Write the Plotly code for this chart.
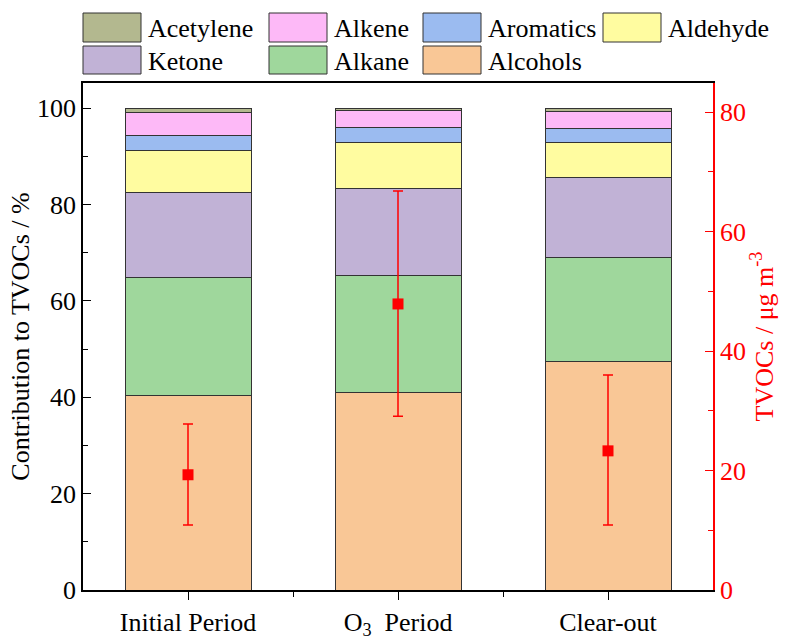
import plotly.graph_objects as go

periods = ["Initial Period", "O<sub>3</sub>  Period", "Clear-out"]
x_pos = [0, 1, 2]

# stacking order bottom -> top
species = ["Alcohols", "Alkane", "Ketone", "Aldehyde", "Aromatics", "Alkene", "Acetylene"]
alcohols = [40.3, 41.0, 47.5]
alkane = [24.6, 24.3, 21.4]
ketone = [17.5, 18.1, 16.6]
aldehyde = [8.7, 9.4, 7.3]
aromatics = [3.3, 3.2, 3.0]
alkene = [4.7, 3.4, 3.5]
acetylene = [0.9, 0.6, 0.7]
values = [alcohols, alkane, ketone, aldehyde, aromatics, alkene, acetylene]
colors = ["#F9C796", "#9FD79C", "#C1B2D6", "#FFFCA0", "#9BBBF0", "#FDB9F7", "#B3B88F"]

tvoc_mean = [19.3, 47.9, 23.3]
tvoc_plus = [8.5, 18.9, 12.7]
tvoc_minus = [8.4, 18.8, 12.4]

FONT = "Liberation Serif, Times New Roman, serif"
FS = 26
W, H = 787, 642
ML, MR, MT, MB = 83, 74, 83, 52
PW, PH = W - ML - MR, H - MT - MB


def px(xp):
    return (xp - ML) / PW


def py(yp):
    return (H - MB - yp) / PH


fig = go.Figure()
for name, vals, col in zip(species, values, colors):
    fig.add_trace(go.Bar(
        x=x_pos, y=vals, name=name, width=0.6, showlegend=False,
        marker=dict(color=col, line=dict(color="#333333", width=1)),
    ))

fig.add_trace(go.Scatter(
    x=x_pos, y=tvoc_mean, yaxis="y2", mode="markers", showlegend=False,
    marker=dict(symbol="square", size=11, color="#FF0000"),
    error_y=dict(type="data", array=tvoc_plus, arrayminus=tvoc_minus,
                 color="#FF0000", thickness=1.5, width=5, visible=True),
))

# custom legend (layout only): order Acetylene, Alkene, Aromatics, Aldehyde / Ketone, Alkane, Alcohols
legend_order = list(reversed(range(len(species))))
col_x = [83, 269, 423, 603]
row_y = [(13, 42), (46, 74)]
shapes = []
annotations = []
for k, idx in enumerate(legend_order):
    r, c = divmod(k, 4)
    x0 = col_x[c]
    y0, y1 = row_y[r]
    shapes.append(dict(type="rect", xref="paper", yref="paper",
                       x0=px(x0), x1=px(x0 + 58), y0=py(y1), y1=py(y0),
                       fillcolor=colors[idx], line=dict(color="#333333", width=1)))
    annotations.append(dict(xref="paper", yref="paper", x=px(x0 + 63), y=py((y0 + y1) / 2 + 1),
                            xanchor="left", yanchor="middle", showarrow=False,
                            text=species[idx], font=dict(family=FONT, size=FS, color="black")))

fig.update_layout(
    barmode="stack",
    width=W, height=H,
    margin=dict(l=ML, r=MR, t=MT, b=MB, autoexpand=False),
    paper_bgcolor="white", plot_bgcolor="white",
    font=dict(family=FONT, size=FS, color="black"),
    showlegend=False,
    shapes=shapes,
    annotations=annotations,
    xaxis=dict(
        range=[-0.5, 2.5], tickmode="array", tickvals=x_pos, ticktext=periods,
        showline=True, linecolor="black", linewidth=1.5, mirror=True,
        ticks="outside", ticklen=8, tickwidth=1.2, tickcolor="black",
        minor=dict(tickmode="array", tickvals=[0.5, 1.5], ticks="outside", ticklen=5, tickcolor="black"),
        showgrid=False, zeroline=False,
        tickfont=dict(family=FONT, size=FS),
    ),
    yaxis=dict(
        range=[0, 105.2], tickvals=[0, 20, 40, 60, 80, 100],
        showline=True, linecolor="black", linewidth=1.5,
        ticks="inside", ticklen=8, tickwidth=1.2, tickcolor="black",
        minor=dict(dtick=10, ticks="inside", ticklen=5, tickcolor="black"),
        showgrid=False, zeroline=False,
        title=dict(text="Contribution to TVOCs / %", font=dict(family=FONT, size=FS), standoff=0),
        tickfont=dict(family=FONT, size=FS),
    ),
    yaxis2=dict(
        overlaying="y", side="right", range=[0, 84.9],
        tickvals=[0, 20, 40, 60, 80],
        showline=True, linecolor="#FF0000", linewidth=1.5,
        ticks="inside", ticklen=8, tickwidth=1.2, tickcolor="#FF0000",
        minor=dict(dtick=10, ticks="inside", ticklen=5, tickcolor="#FF0000"),
        showgrid=False, zeroline=False,
        tickfont=dict(family=FONT, size=FS, color="#FF0000"),
        title=dict(text="TVOCs / μg m<sup>-3</sup>", font=dict(family=FONT, size=FS, color="#FF0000"), standoff=6),
    ),
)

fig.write_html("out.html", config={"displayModeBar": False},
               post_script="document.body.style.margin='0';")
